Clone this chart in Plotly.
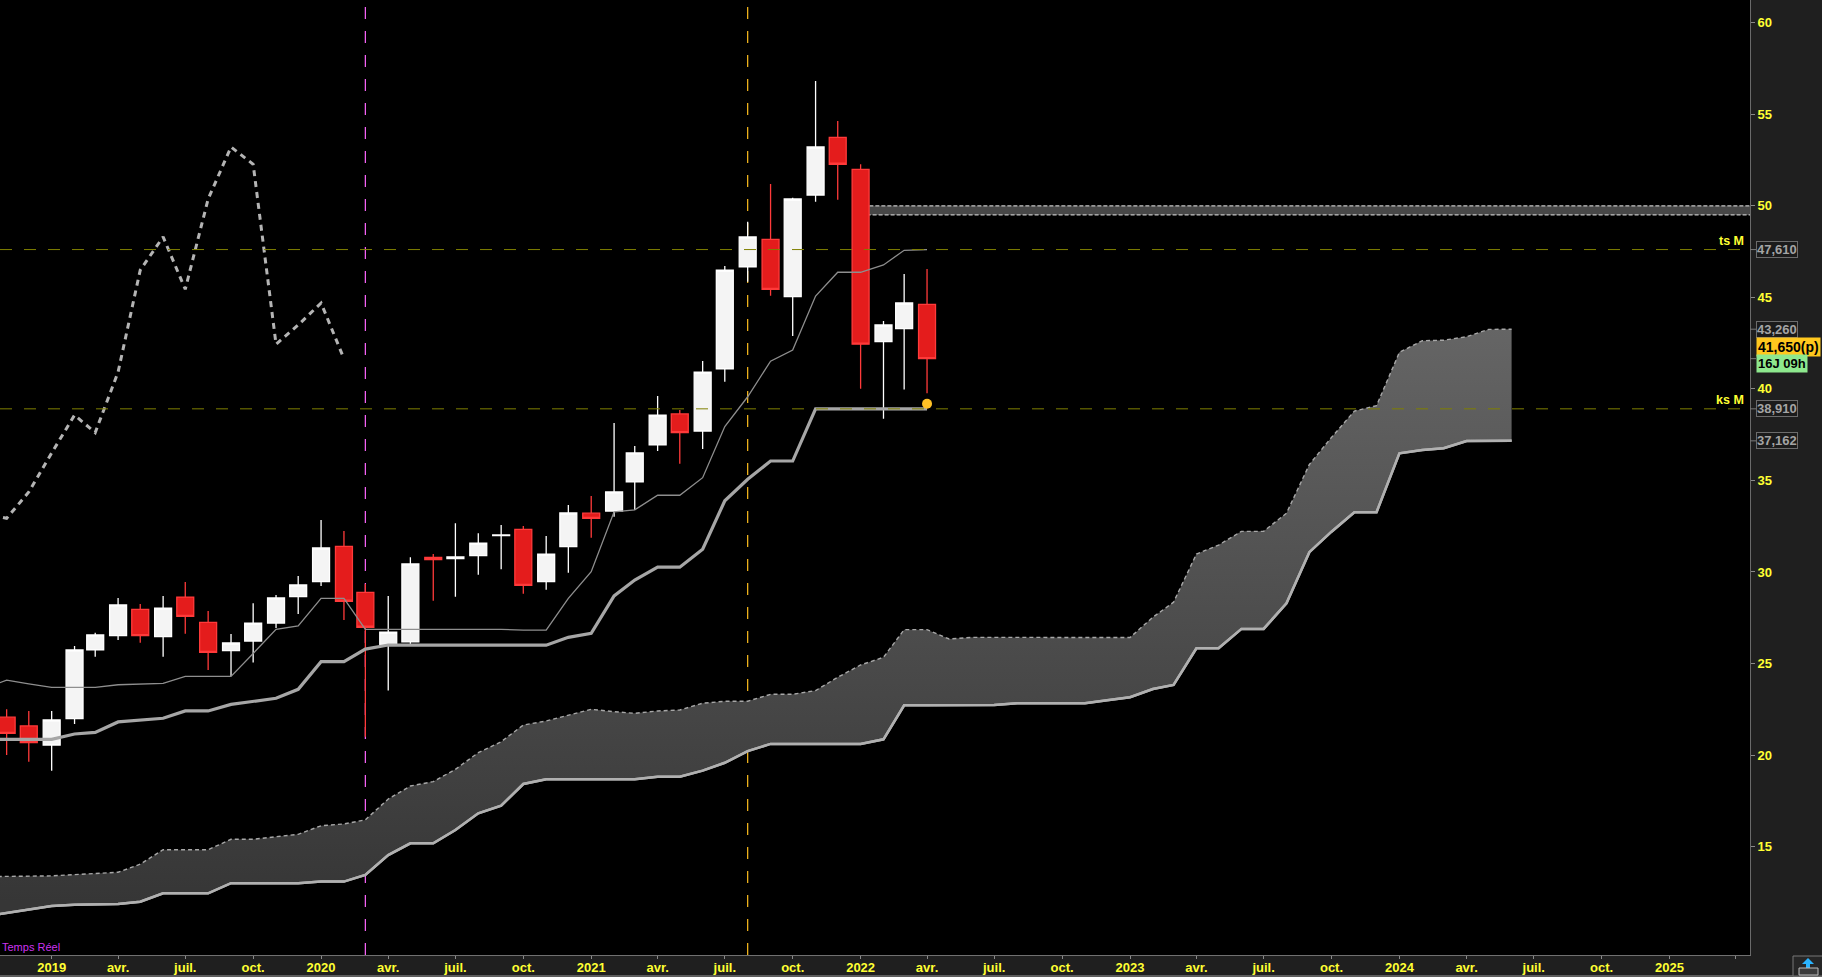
import plotly.graph_objects as go
import pandas as pd

# ---------------- data ----------------
candle_months = pd.date_range("2018-11-01", periods=42, freq="MS")
open_ = [22.07, 21.59, 20.55, 21.99, 25.74, 26.52, 27.96, 26.47, 28.63, 27.25,
         25.70, 26.23, 27.21, 28.65, 29.47, 31.40, 28.89, 26.05, 26.18, 30.80,
         30.73, 30.89, 31.98, 32.33, 29.47, 31.38, 33.21, 33.33, 34.92, 36.94,
         38.63, 37.70, 41.10, 46.67, 48.17, 45.04, 50.59, 53.74, 51.99, 42.58,
         43.29, 44.62]
high = [22.50, 22.41, 22.41, 25.96, 26.68, 28.58, 28.25, 28.69, 29.45, 27.87,
        26.61, 28.29, 28.74, 29.78, 32.84, 32.24, 29.34, 28.69, 30.80, 30.98,
        32.66, 32.11, 32.57, 32.51, 31.97, 33.66, 34.15, 38.14, 36.88, 39.61,
        38.85, 41.52, 46.71, 49.13, 51.19, 50.44, 56.82, 54.63, 52.27, 43.71,
        46.28, 46.55]
low = [20.01, 19.64, 19.15, 21.70, 25.37, 26.29, 26.14, 25.37, 26.63, 24.65,
       24.32, 25.05, 26.94, 27.71, 29.24, 27.38, 21.00, 23.52, 26.07, 28.43,
       28.65, 29.85, 30.15, 28.81, 29.03, 29.96, 31.87, 33.02, 33.39, 36.61,
       35.91, 36.72, 40.39, 45.85, 45.09, 42.89, 50.22, 50.33, 40.01, 38.37,
       39.96, 39.76]
close = [21.19, 20.68, 21.92, 25.74, 26.56, 28.20, 26.52, 28.03, 27.58, 25.61,
         26.12, 27.21, 28.58, 29.29, 31.31, 28.40, 26.98, 26.71, 30.44, 30.67,
         30.82, 31.58, 32.02, 29.27, 30.98, 33.22, 32.93, 34.37, 36.50, 38.57,
         37.61, 40.92, 46.49, 48.30, 45.44, 50.37, 53.21, 52.27, 42.44, 43.49,
         44.69, 41.65]

line_months = pd.date_range("2018-10-01", periods=43, freq="MS")
tenkan = [23.64, 24.09, 23.89, 23.70, 23.70, 23.70, 23.84, 23.88, 23.92, 24.30,
          24.30, 24.30, 25.55, 26.87, 27.05, 28.56, 28.56, 26.87, 26.87, 26.87,
          26.87, 26.87, 26.87, 26.87, 26.82, 26.82, 28.56, 30.02, 33.29, 33.39,
          34.19, 34.19, 35.15, 37.94, 39.57, 41.51, 42.12, 45.07, 46.37, 46.37,
          46.77, 47.57, 47.61]
kijun = [20.86, 20.86, 20.86, 20.86, 21.15, 21.24, 21.81, 21.92, 22.01, 22.41,
         22.41, 22.77, 22.95, 23.10, 23.59, 25.10, 25.10, 25.79, 26.01, 26.00,
         26.00, 26.00, 26.00, 26.00, 26.00, 26.00, 26.43, 26.65, 28.69, 29.56,
         30.26, 30.26, 31.24, 33.89, 35.06, 36.06, 36.06, 38.91, 38.91, 38.91,
         38.91, 38.91, 38.91]

cloud_months = pd.date_range("2018-10-01", periods=69, freq="MS")
span_a = [13.36, 13.37, 13.38,
          13.40, 13.47, 13.54, 13.60, 14.04, 14.83, 14.83, 14.83, 15.40, 15.40, 15.54, 15.67,
          16.14, 16.24, 16.46, 17.60, 18.31, 18.55, 19.22, 20.13, 20.73, 21.64, 21.86, 22.19,
          22.50, 22.37, 22.28, 22.41, 22.46, 22.83, 22.94, 22.94, 23.32, 23.32, 23.52, 24.25,
          24.92, 25.34, 26.85, 26.85, 26.34, 26.43, 26.43, 26.43, 26.43, 26.43, 26.43, 26.42,
          26.42, 27.53, 28.35, 30.98, 31.47, 32.22, 32.22, 33.21, 35.87, 37.35, 38.79, 39.08,
          42.00, 42.63, 42.66, 42.85, 43.25, 43.26]
span_b = [11.18, 11.38, 11.57,
          11.76, 11.82, 11.85, 11.87, 11.99, 12.45, 12.45, 12.45, 13.00, 13.00, 13.00, 13.00,
          13.09, 13.09, 13.45, 14.54, 15.18, 15.18, 15.91, 16.82, 17.24, 18.42, 18.68, 18.68,
          18.68, 18.68, 18.68, 18.82, 18.82, 19.15, 19.58, 20.22, 20.61, 20.61, 20.61, 20.61,
          20.61, 20.86, 22.72, 22.72, 22.72, 22.72, 22.73, 22.83, 22.83, 22.83, 22.83, 22.99,
          23.16, 23.61, 23.83, 25.83, 25.83, 26.89, 26.89, 28.29, 31.08, 32.20, 33.26, 33.26,
          36.48, 36.66, 36.76, 37.15, 37.16, 37.162]

chikou_shift_months = 26

ts_level = 47.61
ks_level = 38.91
zone_start = "2022-01-01"
zone_low, zone_high = 49.5, 50.0
alert_date = ["2022-04-01"]
alert_value = [39.19]
event_dates = ["2020-03-01", "2021-08-01"]
event_colors = ["#ff66ff", "#ffbf1f"]
box_values = [47.61, 43.26, 38.91, 37.162]
timer_text = "16J 09h"

tick_dates = pd.date_range("2019-01-01", "2025-04-01", freq="3MS")
tick_text = ["2019", "avr.", "juil.", "oct.",
             "2020", "avr.", "juil.", "oct.",
             "2021", "avr.", "juil.", "oct.",
             "2022", "avr.", "juil.", "oct.",
             "2023", "avr.", "juil.", "oct.",
             "2024", "avr.", "juil.", "oct.",
             "2025", ""]
y_ticks = [15, 20, 25, 30, 35, 40, 45, 50, 55, 60]

# ---------------- figure ----------------
FONT = "Liberation Sans, Arial, sans-serif"
YELLOW = "#ffff33"
W, H = 1822, 977
ML, MR, MT, MB = 0, 72, 0, 22
PW, PH = W - ML - MR, H - MT - MB


def px_x(p):
    return (p - ML) / PW


def px_y(p):
    return (H - MB - p) / PH


fig = go.Figure()

# cloud
fig.add_trace(go.Scatter(x=cloud_months, y=span_b, mode="lines",
                         line=dict(color="#b0b0b0", width=2.5), hoverinfo="skip"))
fig.add_trace(go.Scatter(x=cloud_months, y=span_a, mode="lines", fill="tonexty",
                         fillgradient=dict(type="vertical", start=12, stop=44,
                                           colorscale=[[0, "#363636"], [1, "#666666"]]),
                         line=dict(color="#a8a8a8", width=1.4, dash="4px,3px"),
                         hoverinfo="skip"))
fig.add_trace(go.Scatter(x=cloud_months, y=span_b, mode="lines",
                         line=dict(color="#b0b0b0", width=2.5), hoverinfo="skip"))

# candles
fig.add_trace(go.Candlestick(
    x=candle_months, open=open_, high=high, low=low, close=close,
    increasing=dict(fillcolor="#f4f4f4", line=dict(color="#ffffff", width=1.3)),
    decreasing=dict(fillcolor="#e41c1c", line=dict(color="#ff3a3a", width=1.3)),
    whiskerwidth=0, hoverinfo="skip"))

# tenkan / kijun
fig.add_trace(go.Scatter(x=line_months, y=tenkan, mode="lines",
                         line=dict(color="#8e8e8e", width=1.3), hoverinfo="skip"))
fig.add_trace(go.Scatter(x=line_months, y=kijun, mode="lines",
                         line=dict(color="#a6a6a6", width=3.2), hoverinfo="skip"))

# chikou (closes shifted back)
chikou_x = [d - pd.DateOffset(months=chikou_shift_months) for d in candle_months]
fig.add_trace(go.Scatter(x=chikou_x, y=close, mode="lines",
                         line=dict(color="#b4b4b4", width=3, dash="6px,5px"),
                         hoverinfo="skip"))

# alert dot
fig.add_trace(go.Scatter(x=alert_date, y=alert_value, mode="markers",
                         marker=dict(color="#ffc125", size=10), hoverinfo="skip"))

shapes = []
# zone band
shapes.append(dict(type="rect", xref="x", yref="y", x0=zone_start, x1="2026-06-01",
                   y0=zone_low, y1=zone_high, fillcolor="#474747",
                   line=dict(color="#c4c4c4", width=1.2, dash="4px,2px"), layer="below"))
# vertical event lines
for d, c in zip(event_dates, event_colors):
    shapes.append(dict(type="line", xref="x", yref="paper", x0=d, x1=d, y0=0, y1=1,
                       line=dict(color=c, width=1.2, dash="12px,12px"), layer="below"))
# horizontal ts / ks lines
for lv in (ts_level, ks_level):
    shapes.append(dict(type="line", xref="paper", yref="y", x0=0, x1=1, y0=lv, y1=lv,
                       line=dict(color="#7f7f00", width=1, dash="12px,12px"), layer="above"))
# small ticks for the value boxes
for v in box_values + [close[-1]]:
    shapes.append(dict(type="line", xref="paper", yref="y", x0=1, x1=px_x(ML + PW + 6),
                       y0=v, y1=v, line=dict(color="#7a7a7a", width=1)))
# bottom frame line
shapes.append(dict(type="line", xref="paper", yref="paper", x0=0, x1=px_x(W),
                   y0=px_y(H - 1), y1=px_y(H - 1), line=dict(color="#9a9a9a", width=1)))
# bottom-right icon
shapes.append(dict(type="rect", xref="paper", yref="paper", x0=px_x(1793), x1=px_x(1823),
                   y0=px_y(976), y1=px_y(956), line=dict(color="#777777", width=1),
                   fillcolor="#262626"))
shapes.append(dict(type="path", xref="paper", yref="paper",
                   path=("M {a},{b} L {c},{b} L {d},{e} Z").format(
                       a=px_x(1802), b=px_y(964), c=px_x(1814), d=px_x(1808), e=px_y(958)),
                   fillcolor="#2ab4ff", line=dict(width=0)))
shapes.append(dict(type="rect", xref="paper", yref="paper", x0=px_x(1806), x1=px_x(1810),
                   y0=px_y(968), y1=px_y(964), fillcolor="#2ab4ff", line=dict(width=0)))
shapes.append(dict(type="rect", xref="paper", yref="paper", x0=px_x(1799), x1=px_x(1818),
                   y0=px_y(975), y1=px_y(968), fillcolor="#3a3a3a",
                   line=dict(color="#bbbbbb", width=1)))

annotations = []
bold = dict(family=FONT, size=12.5, weight="bold")
annotations.append(dict(xref="paper", yref="y", x=1, y=ts_level, xanchor="right",
                        yanchor="bottom", xshift=-4, yshift=0, text="ts M", showarrow=False,
                        font=dict(bold, color=YELLOW)))
annotations.append(dict(xref="paper", yref="y", x=1, y=ks_level, xanchor="right",
                        yanchor="bottom", xshift=-4, yshift=0, text="ks M", showarrow=False,
                        font=dict(bold, color=YELLOW)))
for v in box_values:
    annotations.append(dict(xref="paper", yref="y", x=1, y=v, xanchor="left", xshift=6,
                            text=f"{v:.3f}".replace(".", ","), showarrow=False,
                            font=dict(bold, size=13, color="#a4a4a4"), bgcolor="#1b1b1b",
                            bordercolor="#6c6c6c", borderwidth=1, borderpad=0))
annotations.append(dict(xref="paper", yref="y", x=1, y=close[-1], xanchor="left", xshift=6,
                        yshift=12, text=f"{close[-1]:.3f}".replace(".", ",") + "(p)",
                        showarrow=False, font=dict(bold, size=14, color="#000000"),
                        bgcolor="#ffc81e", borderpad=1))
annotations.append(dict(xref="paper", yref="y", x=1, y=close[-1], xanchor="left", xshift=6,
                        yshift=-5, text=timer_text, showarrow=False,
                        font=dict(bold, size=13, color="#000000"), bgcolor="#8ee88e",
                        borderpad=1))
annotations.append(dict(xref="paper", yref="paper", x=0, y=0, xanchor="left",
                        yanchor="bottom", text="Temps Réel", showarrow=False,
                        font=dict(family=FONT, size=11, color="#cc33ee")))

fig.update_layout(
    width=W, height=H,
    margin=dict(l=ML, r=MR, t=MT, b=MB, pad=0),
    paper_bgcolor="#1f1f1f", plot_bgcolor="#000000",
    showlegend=False, hovermode=False, boxgap=0.18, boxgroupgap=0,
    shapes=shapes, annotations=annotations,
    xaxis=dict(type="date", range=["2018-10-23", "2025-04-20"],
               tickvals=tick_dates, ticktext=tick_text,
               tickfont=dict(family=FONT, size=13, color=YELLOW, weight="bold"),
               ticks="outside", ticklen=3, tickcolor="#8a8a8a", ticklabelstandoff=-3,
               showgrid=False, zeroline=False, showline=True, linecolor="#707070",
               rangeslider=dict(visible=False), automargin=False, fixedrange=True),
    yaxis=dict(side="right", range=[9.08, 61.24], tickvals=y_ticks,
               tickfont=dict(family=FONT, size=13, color=YELLOW, weight="bold"),
               ticks="outside", ticklen=4, tickcolor="#8a8a8a",
               showgrid=False, zeroline=False, showline=True, linecolor="#6a6a6a",
               automargin=False, fixedrange=True),
)

fig.write_html("out.html", config={"displayModeBar": False},
               post_script="document.body.style.margin='0';document.body.style.overflow='hidden';")
